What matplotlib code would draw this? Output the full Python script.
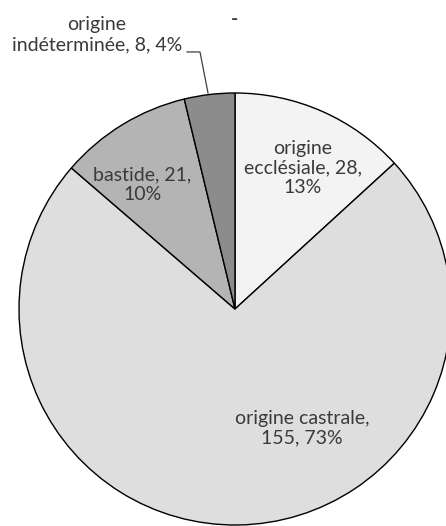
import matplotlib
matplotlib.use("Agg")
import matplotlib.pyplot as plt

noms = ["origine\necclésiale", "origine castrale", "bastide", "origine\nindéterminée"]
valeurs = [28, 155, 21, 8]
pourcents = [13, 73, 10, 4]
couleurs = ["#f3f3f3", "#dedede", "#b4b4b4", "#8c8c8c"]

plt.rcParams['font.family'] = ['Lato', 'DejaVu Sans']

fig = plt.figure(figsize=(4.46, 5.26), dpi=100)
W, H = 446, 526
cx, cy, r = 235, 309, 216
ax = fig.add_axes([(cx - r) / W, (H - cy - r) / H, 2 * r / W, 2 * r / H])

wedges, _ = ax.pie(valeurs, colors=couleurs, startangle=90, counterclock=False,
                   wedgeprops=dict(edgecolor="black", linewidth=1.0))
for w in wedges:
    w.set_clip_on(False)
ax.set_xlim(-1, 1)
ax.set_ylim(-1, 1)
ax.axis("off")

style = dict(ha="center", va="center", fontsize=14, color="#3a3a3a", linespacing=1.2)
ax.text(0.315, 0.653, f"{noms[0]}, {valeurs[0]},\n{pourcents[0]}%", **style)
ax.text(-0.43, 0.574, f"{noms[2]}, {valeurs[2]},\n{pourcents[2]}%", **style)
ax.text(0.31, -0.553, f"{noms[1]},\n{valeurs[1]}, {pourcents[1]}%", **style)
ax.text(-0.639, 1.269, f"{noms[3]}, {valeurs[3]}, {pourcents[3]}%", clip_on=False, **style)
ax.plot([-0.222, -0.162, -0.125], [1.19, 1.19, 1.0], color="#404040", lw=0.9, clip_on=False)
ax.text(0, 1.338, "-", clip_on=False, fontweight="bold", **style)

fig.savefig("out.png", dpi=100)
